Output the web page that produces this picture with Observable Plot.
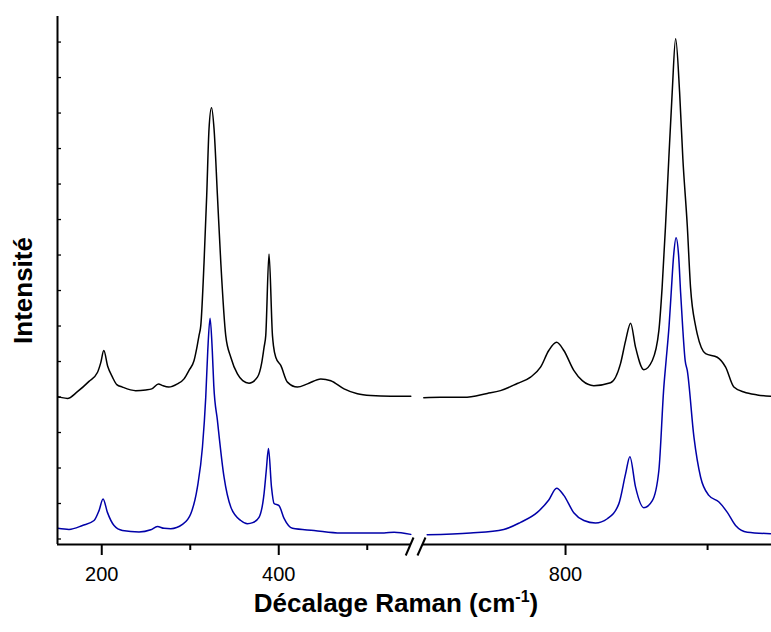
<!DOCTYPE html>
<html><head><meta charset="utf-8">
<script src="https://cdn.jsdelivr.net/npm/d3@7"></script>
<script src="https://cdn.jsdelivr.net/npm/@observablehq/plot@0.6"></script>
<style>
body{margin:0;background:#fff;font-family:"Liberation Sans",Arial,sans-serif;}
#wrap{position:relative;width:771px;height:632px;overflow:hidden;}
#xlabel{position:absolute;left:0;width:792px;top:588px;line-height:30px;text-align:center;font-weight:bold;font-size:26px;color:#000;}
#xlabel sup{font-size:16px;line-height:0;}
</style></head><body>
<div id="wrap"><div id="chart"></div><div id="xlabel">Décalage Raman (cm<sup>-1</sup>)</div></div>
<script>
// Wavenumber (cm-1) and intensity (a.u.)
const blackX = [150.3,153.7,161.2,172.5,185.6,195.1,198.9,202.3,206.8,212.1,217,223.4,238.4,249.7,256.5,264.1,268.9,275.7,285.5,293,298.6,304.3,307.9,309.9,311.9,315.6,318.6,321.2,324,326.9,330.7,334.5,340.1,345.8,353.3,359.3,366.4,375.9,380.8,383.4,385.3,389,392.9,394,396.6,402.3,409.8,421.1,432.4,447.5,458.8,473.8,488.9,504,526.6,549.2,
  700.2,712,728.4,744.9,754.2,766,775.4,782.4,788.2,793.7,798.8,805.8,811.8,819.9,831.7,838.7,842.3,845.8,849.3,855.1,861.1,865.7,868,870.4,872.7,875.1,877.5,880.3,882.6,885.7,888,891.5,892.7,898.6,906.8,912.7,918.5,925.6,935,944.4];
const blackY = [4.01,3.99,3.96,4.15,4.44,4.69,4.97,5.31,4.86,4.56,4.35,4.28,4.18,4.2,4.23,4.37,4.32,4.28,4.37,4.51,4.75,5.03,5.45,5.73,6.01,7.8,9.68,11.55,12.15,11.55,9.68,7.8,5.73,5.12,4.65,4.46,4.39,4.56,4.97,5.4,5.73,8.03,5.73,5.45,5.12,4.89,4.42,4.28,4.37,4.51,4.46,4.23,4.09,4.04,4.02,4.02,
  3.98,3.99,3.99,4.1,4.18,4.38,4.56,4.84,5.31,5.54,5.31,4.75,4.46,4.32,4.4,4.94,5.59,6.08,5.4,4.77,5.03,5.87,7.09,8.83,10.71,12.59,14.09,12.59,10.71,8.83,7.09,6.01,5.78,5.22,5.12,4.84,4.28,4.14,4.06,4.02];
const blueX = [150.3,163,178.2,191.3,196.9,201.5,206.4,213.9,223.4,242.1,255.4,262.9,270.4,278,291.2,300.6,308.1,313.8,317.5,319.8,322.4,324.9,326.6,330.7,338.2,345.8,357.1,364.6,370.6,377.7,383.4,385.9,388.4,391.8,394.7,400.3,406,415.5,439.9,470.1,519,530.3,549.2,
  702.6,733.1,756.5,768.3,780.1,788.2,793.7,798.8,805.8,812.9,821.1,829.4,837.5,842.3,845.3,849.3,855.1,861.1,865.7,869.2,870.8,872.9,874.4,876.1,877.8,879.6,881,882.4,884.2,885.7,890.4,895.1,900.9,908,913.9,919.7,928,944.4];
const blueY = [0.3,0.27,0.38,0.52,0.8,1.13,0.75,0.38,0.24,0.2,0.26,0.35,0.3,0.29,0.41,0.71,1.46,2.59,3.99,5.31,6.22,5.31,4.32,3.34,1.74,0.9,0.52,0.43,0.46,0.61,1.28,1.93,2.55,1.46,1.0,0.94,0.58,0.3,0.24,0.17,0.17,0.19,0.13,
  0.12,0.17,0.27,0.47,0.75,1.1,1.43,1.23,0.74,0.52,0.45,0.57,0.99,1.84,2.32,1.46,0.88,1.08,1.93,4.28,5.03,6.01,6.95,7.99,8.49,7.99,6.95,6.01,5.03,4.75,2.87,1.74,1.23,1.04,0.75,0.38,0.19,0.15];

const majorTicks = [200, 400, 800];
const minorTicks = [300, 500, 900];
const yTicks = [0,1,2,3,4,5,6,7,8,9,10,11,12,13,14];
const xSegments = [{start: 150, end: 550}, {start: 700, end: 945}];
const breakMarks = [{x1: 543.5, x2: 575}, {x1: 625, x2: 701.4}];

const yMin = -0.155, yMax = 14.72;
const seg = x => (x < 600 ? "a" : "b");
const black = blackX.map((x, i) => ({x, y: blackY[i], s: seg(x)}));
const blue = blueX.map((x, i) => ({x, y: blueY[i], s: seg(x)}));

const chart = Plot.plot({
  width: 771, height: 592,
  marginLeft: 57, marginRight: 0, marginTop: 16, marginBottom: 48,
  x: {type: "linear", domain: [150, 550, 700, 945], range: [57, 411, 423, 771], label: null},
  y: {type: "linear", domain: [yMin, yMax], axis: null},
  style: {fontFamily: "'Liberation Sans', Arial, sans-serif", fontSize: "20px", color: "#000", background: "#fff"},
  marks: [
    Plot.line(blue, {x: "x", y: "y", z: "s", stroke: "#0000a8", strokeWidth: 1.5, curve: "monotone-x"}),
    Plot.line(black, {x: "x", y: "y", z: "s", stroke: "#000", strokeWidth: 1.5, curve: "monotone-x"}),
    Plot.ruleX([150], {stroke: "#000", strokeWidth: 2}),
    Plot.ruleY(xSegments, {y: yMin, x1: "start", x2: "end", stroke: "#000", strokeWidth: 2}),
    Plot.tickY(yTicks, {y: d => d, insetRight: 771 - 57 - 4, stroke: "#000", strokeWidth: 1.3}),
    Plot.axisX(majorTicks, {tickSize: 11, tickPadding: 11, tickFormat: d => String(d), fontSize: 20, strokeWidth: 2, label: null}),
    Plot.axisX(minorTicks, {tickSize: 6, tickFormat: () => "", strokeWidth: 2, label: null}),
    Plot.link(breakMarks, {x1: "x1", x2: "x2", y1: -0.465, y2: 0.042, stroke: "#000", strokeWidth: 2}),
    Plot.text(["Intensité"], {frameAnchor: "left", textAnchor: "middle", rotate: -90, dx: -34, dy: 10, text: d => d, fontWeight: "bold", fontSize: 26, fill: "#000"})
  ]
});
document.getElementById("chart").appendChild(chart);
</script>
</body></html>
